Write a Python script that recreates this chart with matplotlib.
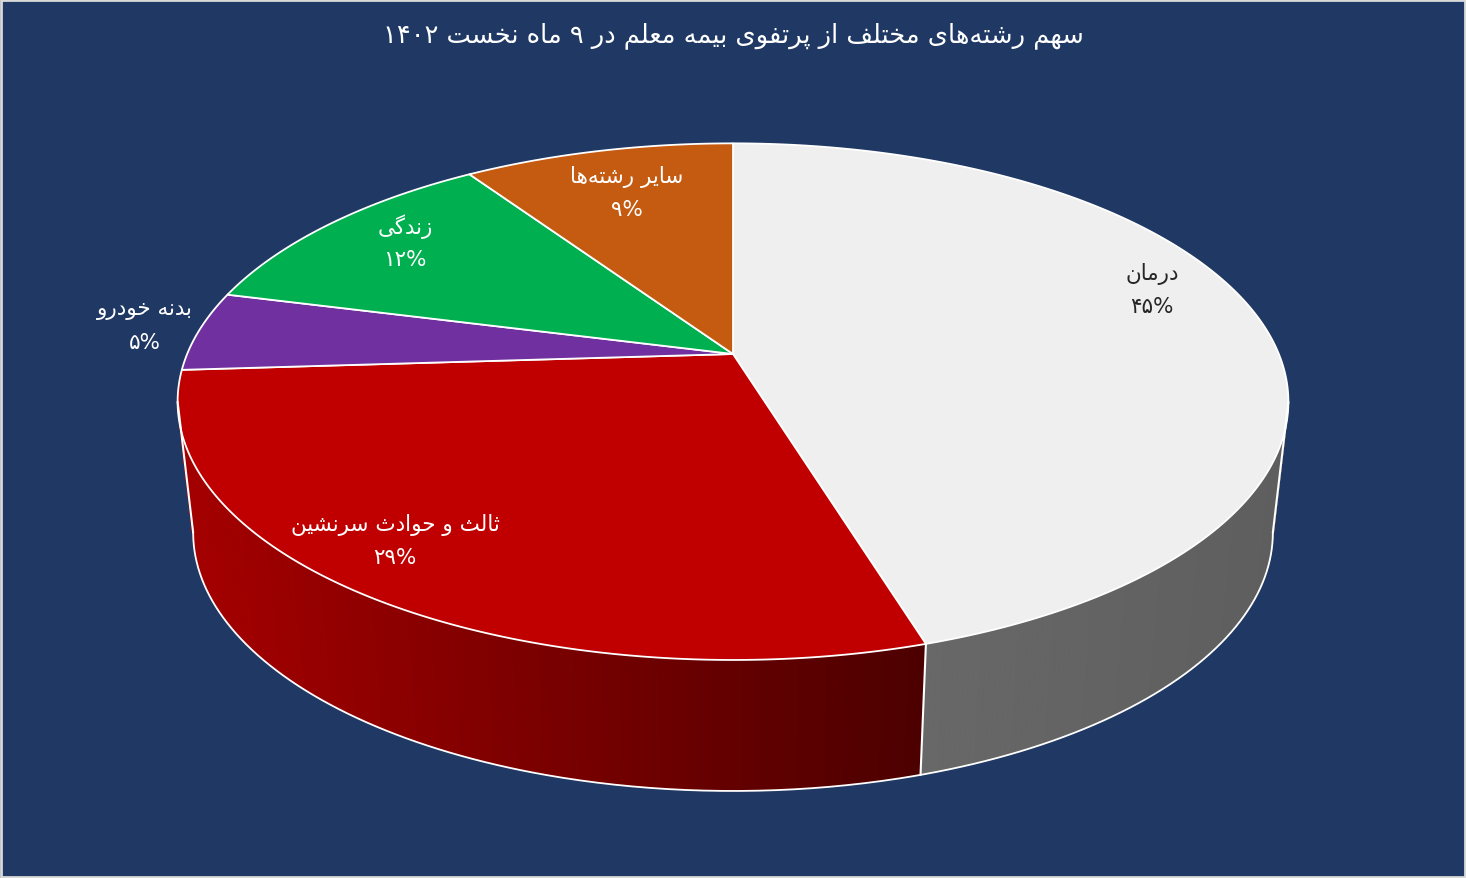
import re
import numpy as np
import matplotlib
matplotlib.use('Agg')
import matplotlib.pyplot as plt
from matplotlib.patches import Polygon, Rectangle
from matplotlib.collections import PolyCollection
from matplotlib.colors import to_rgb

# data
title = 'سهم رشته‌های مختلف از پرتفوی بیمه معلم در ۹ ماه نخست ۱۴۰۲'
categories = ['درمان', 'ثالث و حوادث سرنشین', 'بدنه خودرو', 'زندگی', 'سایر رشته‌ها']
shares = [45.3, 28.7, 5.0, 11.6, 9.4]

# style
top_colors = ['#EFEFEF', '#C00000', '#7030A0', '#00B050', '#C55A11']
wall_colors = [('#686868', '#5E5E5E'), ('#A60000', '#4C0000'),
               ('#4E2270', '#4E2270'), ('#007A3D', '#007A3D'), ('#8A3F0C', '#8A3F0C')]
label_colors = ['#262626', 'white', 'white', 'white', 'white']
label_xy = [(1152, 274), (395, 525), (145, 310), (405, 227), (627, 177)]
BG = '#1F3864'

plt.rcParams['font.family'] = ['DejaVu Sans']

# --- tiny arabic/persian shaper (matplotlib 3.10 does no shaping) ---
# isolated, final, initial, medial
FORMS = {
    'ا': (0xFE8D, 0xFE8E, None, None), 'آ': (0xFE81, 0xFE82, None, None),
    'ب': (0xFE8F, 0xFE90, 0xFE91, 0xFE92), 'پ': (0xFB56, 0xFB57, 0xFB58, 0xFB59),
    'ت': (0xFE95, 0xFE96, 0xFE97, 0xFE98), 'ث': (0xFE99, 0xFE9A, 0xFE9B, 0xFE9C),
    'ج': (0xFE9D, 0xFE9E, 0xFE9F, 0xFEA0), 'چ': (0xFB7A, 0xFB7B, 0xFB7C, 0xFB7D),
    'ح': (0xFEA1, 0xFEA2, 0xFEA3, 0xFEA4), 'خ': (0xFEA5, 0xFEA6, 0xFEA7, 0xFEA8),
    'د': (0xFEA9, 0xFEAA, None, None), 'ذ': (0xFEAB, 0xFEAC, None, None),
    'ر': (0xFEAD, 0xFEAE, None, None), 'ز': (0xFEAF, 0xFEB0, None, None),
    'ژ': (0xFB8A, 0xFB8B, None, None),
    'س': (0xFEB1, 0xFEB2, 0xFEB3, 0xFEB4), 'ش': (0xFEB5, 0xFEB6, 0xFEB7, 0xFEB8),
    'ص': (0xFEB9, 0xFEBA, 0xFEBB, 0xFEBC), 'ض': (0xFEBD, 0xFEBE, 0xFEBF, 0xFEC0),
    'ط': (0xFEC1, 0xFEC2, 0xFEC3, 0xFEC4), 'ظ': (0xFEC5, 0xFEC6, 0xFEC7, 0xFEC8),
    'ع': (0xFEC9, 0xFECA, 0xFECB, 0xFECC), 'غ': (0xFECD, 0xFECE, 0xFECF, 0xFED0),
    'ف': (0xFED1, 0xFED2, 0xFED3, 0xFED4), 'ق': (0xFED5, 0xFED6, 0xFED7, 0xFED8),
    'ک': (0xFB8E, 0xFB8F, 0xFB90, 0xFB91), 'گ': (0xFB92, 0xFB93, 0xFB94, 0xFB95),
    'ل': (0xFEDD, 0xFEDE, 0xFEDF, 0xFEE0), 'م': (0xFEE1, 0xFEE2, 0xFEE3, 0xFEE4),
    'ن': (0xFEE5, 0xFEE6, 0xFEE7, 0xFEE8), 'و': (0xFEED, 0xFEEE, None, None),
    'ه': (0xFEE9, 0xFEEA, 0xFEEB, 0xFEEC), 'ی': (0xFBFC, 0xFBFD, 0xFBFE, 0xFBFF),
}
DIGITS = '0-9\u06F0-\u06F9%'


def shape(text):
    out = []
    for i, ch in enumerate(text):
        if ch not in FORMS:
            out.append(ch)
            continue
        prev = text[i - 1] if i > 0 else None
        nxt = text[i + 1] if i + 1 < len(text) else None
        jp = prev in FORMS and FORMS[prev][2] is not None
        jn = FORMS[ch][2] is not None and nxt in FORMS
        iso, fin, ini, med = FORMS[ch]
        g = med if (jp and jn) else fin if jp else ini if jn else iso
        out.append(chr(g))
    s = ''.join(c for c in out if c != '\u200c')
    toks = re.findall('[%s]+|[^%s]+' % (DIGITS, DIGITS), s)
    return ''.join(t if re.fullmatch('[%s]+' % DIGITS, t) else t[::-1]
                   for t in reversed(toks))


def fa(n):
    return str(n).translate(str.maketrans('0123456789', '۰۱۲۳۴۵۶۷۸۹'))


# --- perspective-ish projection of the pie (pixel coords) ---
W, H = 1466, 879
CX, CY = 733, 355
F, D, ELEV = 2631, 4.82, np.radians(27.2)
DEPTH, SHRINK = 131, 0.972


def top(phi):
    p = np.radians(phi)
    X, Y = np.sin(p), np.cos(p)
    zc = Y * np.cos(ELEV) + D
    return CX + F * X / zc, CY - F * Y * np.sin(ELEV) / zc


def bottom(phi):
    x, y = top(phi)
    return CX + (x - CX) * SHRINK, y + DEPTH


fig = plt.figure(figsize=(W / 100, H / 100), dpi=100, facecolor=BG)
ax = fig.add_axes([0, 0, 1, 1])
ax.set_xlim(0, W)
ax.set_ylim(H, 0)
ax.axis('off')
ax.set_facecolor(BG)

grid = np.linspace(0, 360, 7201)
gx, _ = top(grid)
phi_r, phi_l = grid[np.argmax(gx)], grid[np.argmin(gx)]

bounds = np.concatenate([[0], np.cumsum(shares)]) / sum(shares) * 360

# side walls
for i in range(len(shares)):
    lo, hi = max(bounds[i], phi_r), min(bounds[i + 1], phi_l)
    if hi <= lo:
        continue
    ph = np.linspace(lo, hi, 120)
    tx, ty = top(ph)
    bx, by = bottom(ph)
    c0, c1 = np.array(to_rgb(wall_colors[i][0])), np.array(to_rgb(wall_colors[i][1]))
    # base fill so strip seams blend with wall colour, not the background
    outline = list(zip(tx, ty)) + list(zip(bx[::-1], by[::-1]))
    ax.add_patch(Polygon(outline, closed=True, fc=(c0 + c1) / 2, lw=0))
    quads, cols = [], []
    xmin, xmax = min(tx), max(tx)
    for k in range(len(ph) - 1):
        quads.append([(tx[k], ty[k]), (tx[k + 1], ty[k + 1]),
                      (bx[k + 1], by[k + 1]), (bx[k], by[k])])
        t = ((tx[k] + tx[k + 1]) / 2 - xmin) / max(xmax - xmin, 1)
        cols.append(c0 + (c1 - c0) * t)
    ax.add_collection(PolyCollection(quads, facecolors=cols, edgecolors=cols,
                                     linewidths=0.4))

# wall outlines
ph = np.linspace(phi_r, phi_l, 400)
bx, by = bottom(ph)
ax.plot(bx, by, color='white', lw=1.3, solid_capstyle='round')
for p in [phi_r, phi_l] + [b for b in bounds if phi_r < b < phi_l]:
    (x0, y0), (x1, y1) = top(p), bottom(p)
    ax.plot([x0, x1], [y0, y1], color='white', lw=1.5, solid_capstyle='round')

# top face
for i in range(len(shares)):
    ph = np.linspace(bounds[i], bounds[i + 1], 200)
    tx, ty = top(ph)
    pts = [(CX, CY)] + list(zip(tx, ty))
    ax.add_patch(Polygon(pts, closed=True, fc=top_colors[i], ec='white', lw=1.3,
                         joinstyle='round'))

# labels
for name, val, (x, y), c in zip(categories, shares, label_xy, label_colors):
    ax.text(x, y, shape(name), color=c, fontsize=15.5, ha='center', va='center')
    ax.text(x, y + 33, fa(round(val)) + '%', color=c, fontsize=15.5,
            ha='center', va='center')

ax.text(W / 2, 36, shape(title), color='white', fontsize=18.5, ha='center', va='center')

ax.add_patch(Rectangle((1, 1), W - 2, H - 2, fill=False, ec='#D9D9D9', lw=2))

fig.savefig('out.png', dpi=100, facecolor=BG)
